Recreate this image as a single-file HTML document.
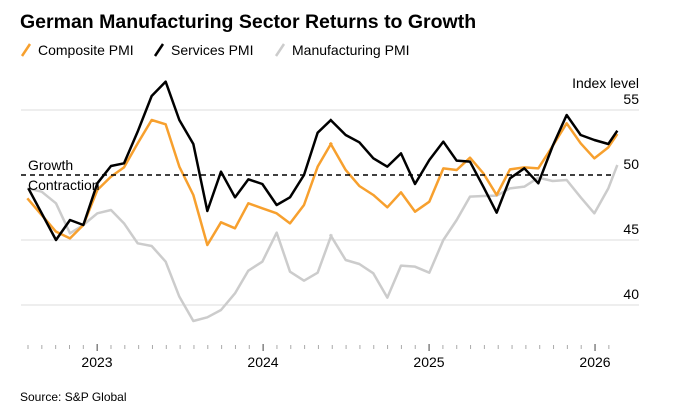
<!DOCTYPE html>
<html><head><meta charset="utf-8"><style>
body{margin:0;background:#fff;font-family:"Liberation Sans",Arial,sans-serif;}
</style></head><body>
<svg width="685" height="415" xmlns="http://www.w3.org/2000/svg" font-family="Liberation Sans, Arial, sans-serif">
<rect width="685" height="415" fill="#fff"/>
<text x="20" y="28" font-size="19.5" font-weight="bold" fill="#000">German Manufacturing Sector Returns to Growth</text>
<g font-size="14" fill="#000">
<line x1="22" y1="56" x2="30" y2="44" stroke="#f7a02e" stroke-width="2.5"/>
<text x="38" y="55">Composite PMI</text>
<line x1="155" y1="56" x2="163" y2="44" stroke="#000" stroke-width="2.5"/>
<text x="171" y="55">Services PMI</text>
<line x1="276" y1="56" x2="284" y2="44" stroke="#ccc" stroke-width="2.5"/>
<text x="292" y="55">Manufacturing PMI</text>
</g>
<g stroke="#ddd" stroke-width="1">
<line x1="21" y1="110" x2="639" y2="110"/>
<line x1="21" y1="240" x2="639" y2="240"/>
<line x1="21" y1="305" x2="639" y2="305"/>
</g>
<g font-size="14" fill="#000" text-anchor="end">
<text x="639" y="88">Index level</text>
<text x="639" y="104">55</text>
<text x="639" y="169">50</text>
<text x="639" y="234">45</text>
<text x="639" y="299">40</text>
</g>
<g fill="none" stroke-linejoin="round" vector-effect="non-scaling-stroke">
<g transform="translate(0,60) scale(0.33333)">
<polyline vector-effect="non-scaling-stroke" stroke="#ccc" stroke-width="2.5" points="82,385 125,395 168,430 210,520 250,495 292,460 333,450 372,490 413,550 455,558 497,605 538,710 580,783 622,772 663,750 705,700 745,632 787,605 830,518 870,635 912,662 953,638 995,523"/>
<polyline vector-effect="non-scaling-stroke" stroke="#f7a02e" stroke-width="2.5" points="82,415 125,465 168,515 210,535 250,495 292,390 333,350 372,322 413,250 455,180 497,193 538,320 580,405 622,555 663,487 705,505 745,430 787,445 830,460 870,490 912,435 953,320 995,248"/>
<polyline vector-effect="non-scaling-stroke" stroke="#000" stroke-width="2.5" points="85,385 168,540 210,480 250,495 292,370 333,318 372,310 413,215 455,108 497,65 538,180 580,252 622,453 663,335 705,412 745,358 787,372 830,435 870,412 912,345 953,218 995,178"/>
</g>
<g transform="translate(330,60) scale(0.33333)">
<polyline vector-effect="non-scaling-stroke" stroke="#ccc" stroke-width="2.5" points="0,523 47,600 88,612 130,640 172,713 213,617 255,620 298,638 340,540 380,480 420,410 460,408 500,407 540,385 583,380 625,353 668,363 710,360 752,412 793,460 835,385 862,315"/>
<polyline vector-effect="non-scaling-stroke" stroke="#f7a02e" stroke-width="2.5" points="0,248 47,330 88,378 130,405 172,442 213,397 255,455 298,425 340,325 380,330 420,293 460,340 500,405 540,328 583,322 625,325 668,258 710,190 752,250 793,295 835,262 862,222"/>
<polyline vector-effect="non-scaling-stroke" stroke="#000" stroke-width="2.5" points="0,178 47,225 88,247 130,295 172,320 213,280 255,372 298,300 340,245 380,302 420,305 460,380 500,458 540,355 583,325 625,370 668,258 710,165 752,225 793,240 835,252 862,212"/>
</g>
</g>
<line x1="21" y1="175" x2="615" y2="175" stroke="#000" stroke-width="1.6" stroke-dasharray="5,4"/>
<text x="28" y="170" font-size="14" fill="#000">Growth</text>
<text x="28" y="190" font-size="14" fill="#000">Contraction</text>
<g stroke="#999" stroke-width="1" id="ticks"></g>
<g font-size="14" fill="#000" text-anchor="middle">
<text x="97" y="367">2023</text>
<text x="263" y="367">2024</text>
<text x="429" y="367">2025</text>
<text x="595" y="367">2026</text>
</g>
<text x="20" y="401" font-size="12" fill="#000">Source: S&amp;P Global</text>
<script>
var g=document.getElementById('ticks');
for(var i=0;i<43;i++){var x=28+i*13.83;var major=[5,17,29,41].indexOf(i)>=0;
var l=document.createElementNS('http://www.w3.org/2000/svg','line');
l.setAttribute('x1',x);l.setAttribute('x2',x);l.setAttribute('y1',major?344:345);l.setAttribute('y2',major?351:349);
l.setAttribute('stroke',major?'#444':'#aaa');g.appendChild(l);}
</script>
</svg>
</body></html>
